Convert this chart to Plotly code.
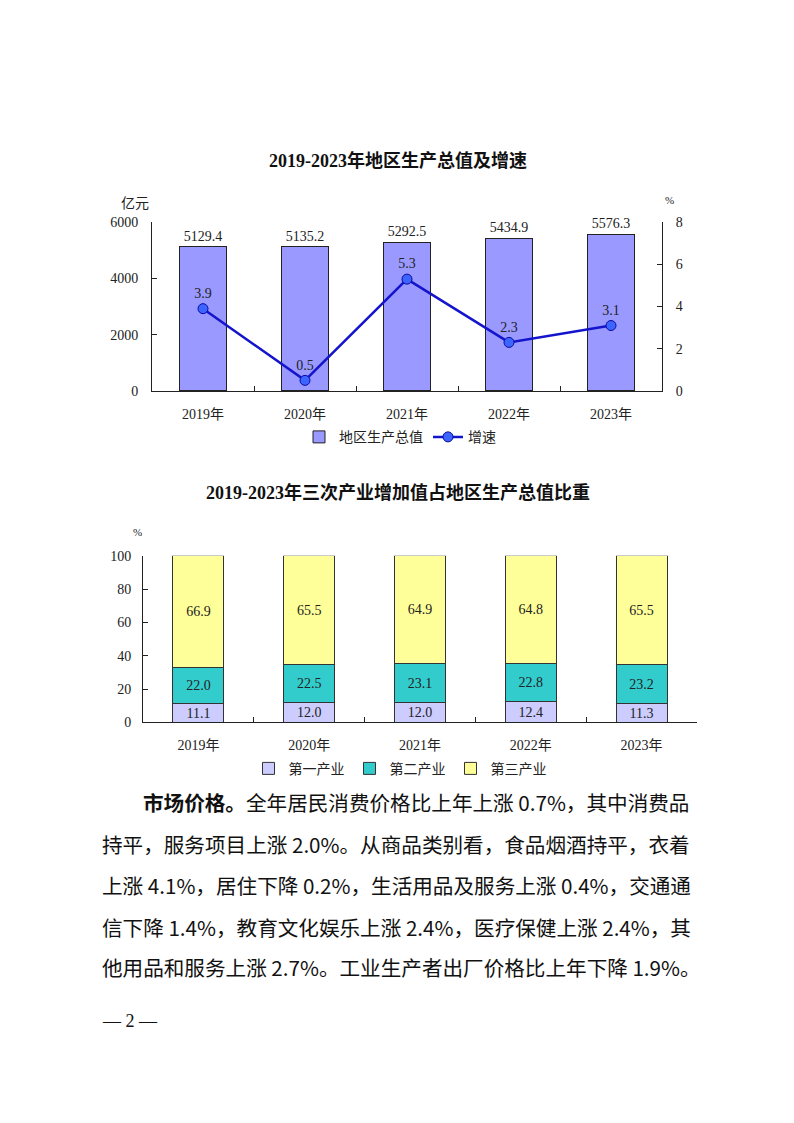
import plotly.graph_objects as go

W, H = 794, 1123

# ---------------- data ----------------
years = ["2019年", "2020年", "2021年", "2022年", "2023年"]
gdp = [5129.4, 5135.2, 5292.5, 5434.9, 5576.3]
growth = [3.9, 0.5, 5.3, 2.3, 3.1]

primary = [11.1, 12.0, 12.0, 12.4, 11.3]
secondary = [22.0, 22.5, 23.1, 22.8, 23.2]
tertiary = [66.9, 65.5, 64.9, 64.8, 65.5]

title1 = "2019-2023年地区生产总值及增速"
title2 = "2019-2023年三次产业增加值占地区生产总值比重"

para_lines = [
    "<b>市场价格。</b>全年居民消费价格比上年上涨 0.7%，其中消费品",
    "持平，服务项目上涨 2.0%。从商品类别看，食品烟酒持平，衣着",
    "上涨 4.1%，居住下降 0.2%，生活用品及服务上涨 0.4%，交通通",
    "信下降 1.4%，教育文化娱乐上涨 2.4%，医疗保健上涨 2.4%，其",
    "他用品和服务上涨 2.7%。工业生产者出厂价格比上年下降 1.9%。",
]
page_no = "— 2 —"

FONT = "Liberation Serif, Noto Sans CJK SC, serif"
CJK = "Noto Sans CJK SC, sans-serif"

OFF = 8  # page body margin


def px(x):
    return (x - OFF) / W


def py(y):
    return 1 - (y - OFF) / H


fig = go.Figure()

# ---------------- chart 1 ----------------
fig.add_trace(go.Bar(
    x=years, y=gdp, name="地区生产总值",
    marker=dict(color="#9999FF", line=dict(color="#222222", width=1)),
    width=0.46,
    text=[f"{v:.1f}" for v in gdp], textposition="outside",
    textfont=dict(size=14, color="#222222", family=FONT),
    cliponaxis=False,
    xaxis="x", yaxis="y", legend="legend",
))
fig.add_trace(go.Scatter(
    x=years, y=growth, name="增速", mode="lines+markers+text",
    line=dict(color="#1414CC", width=2.5),
    marker=dict(size=10, color="#3C64FF", line=dict(color="#0A0AA0", width=1)),
    text=[f"{v:.1f}" for v in growth], textposition="top center",
    textfont=dict(size=14, color="#222222", family=FONT),
    cliponaxis=False,
    xaxis="x", yaxis="y2", legend="legend",
))

# ---------------- chart 2 ----------------
for name, vals, col in [("第一产业", primary, "#CCCCFF"),
                        ("第二产业", secondary, "#33CCCC"),
                        ("第三产业", tertiary, "#FFFF99")]:
    fig.add_trace(go.Bar(
        x=years, y=vals, name=name,
        marker=dict(color=col, line=dict(color="#333333", width=1)),
        width=0.46,
        text=[f"{v:.1f}" for v in vals], textposition="inside",
        insidetextanchor="middle", constraintext="none", textangle=0,
        textfont=dict(size=14, color="#222222", family=FONT),
        xaxis="x2", yaxis="y3", legend="legend2",
    ))

axis_common = dict(
    showgrid=False, zeroline=False, showline=True, linecolor="#222222",
    linewidth=1, ticks="inside", ticklen=5, tickcolor="#222222",
    tickfont=dict(size=14, color="#222222", family=FONT),
)

fig.update_layout(
    width=W, height=H,
    margin=dict(l=0, r=0, t=0, b=0),
    paper_bgcolor="white", plot_bgcolor="white",
    barmode="stack",
    font=dict(family=FONT, color="#222222"),
    xaxis=dict(domain=[px(152), px(662)], anchor="y", tickson="boundaries",
               type="category", ticklabelstandoff=10, **axis_common),
    yaxis=dict(domain=[py(389), py(218)], range=[0, 6000], dtick=2000,
               anchor="x", ticklabelstandoff=10, **axis_common),
    yaxis2=dict(domain=[py(389), py(218)], range=[0, 8], dtick=2,
                overlaying="y", side="right", anchor="x",
                ticklabelstandoff=10, **axis_common),
    xaxis2=dict(domain=[px(143), px(697)], anchor="y3", tickson="boundaries",
                type="category", ticklabelstandoff=10, **axis_common),
    yaxis3=dict(domain=[py(725), py(556)], range=[0, 100], dtick=20,
                anchor="x2", ticklabelstandoff=8, **axis_common),
    legend=dict(orientation="h", x=px(400), xanchor="center", y=py(436),
                yanchor="middle", font=dict(size=14, family=FONT),
                bgcolor="rgba(0,0,0,0)", itemwidth=30, traceorder="normal"),
    legend2=dict(orientation="h", x=px(400), xanchor="center", y=py(772),
                 yanchor="middle", font=dict(size=14, family=FONT),
                 bgcolor="rgba(0,0,0,0)", itemwidth=30, traceorder="normal"),
    showlegend=True,
)

ann = []
ann.append(dict(text=f"<b>{title1}</b>", x=px(398), y=py(155), xref="paper",
                yref="paper", showarrow=False, xanchor="center", yanchor="middle",
                font=dict(size=18, family=FONT, color="#111111")))
ann.append(dict(text=f"<b>{title2}</b>", x=px(398), y=py(492), xref="paper",
                yref="paper", showarrow=False, xanchor="center", yanchor="middle",
                font=dict(size=18, family=FONT, color="#111111")))
ann.append(dict(text="亿元", x=px(135), y=py(198), xref="paper", yref="paper",
                showarrow=False, xanchor="center", yanchor="middle",
                font=dict(size=14, family=CJK, color="#222222")))
ann.append(dict(text="%", x=px(669), y=py(196), xref="paper", yref="paper",
                showarrow=False, xanchor="center", yanchor="middle",
                font=dict(size=11, family=FONT, color="#222222")))
ann.append(dict(text="%", x=px(137), y=py(532), xref="paper", yref="paper",
                showarrow=False, xanchor="center", yanchor="middle",
                font=dict(size=11, family=FONT, color="#222222")))

line_y = [806, 848, 890, 932, 973]
for i, (t, yy) in enumerate(zip(para_lines, line_y)):
    ann.append(dict(text=t, x=px(141 if i == 0 else 100), y=py(yy),
                    xref="paper", yref="paper", showarrow=False,
                    xanchor="left", yanchor="middle",
                    font=dict(size=20.6, family=CJK, color="#111111")))
ann.append(dict(text=page_no, x=px(100), y=py(1028), xref="paper", yref="paper",
                showarrow=False, xanchor="left", yanchor="middle",
                font=dict(size=18, family=FONT, color="#111111")))

fig.update_layout(annotations=ann)

fig.write_html("out.html")
